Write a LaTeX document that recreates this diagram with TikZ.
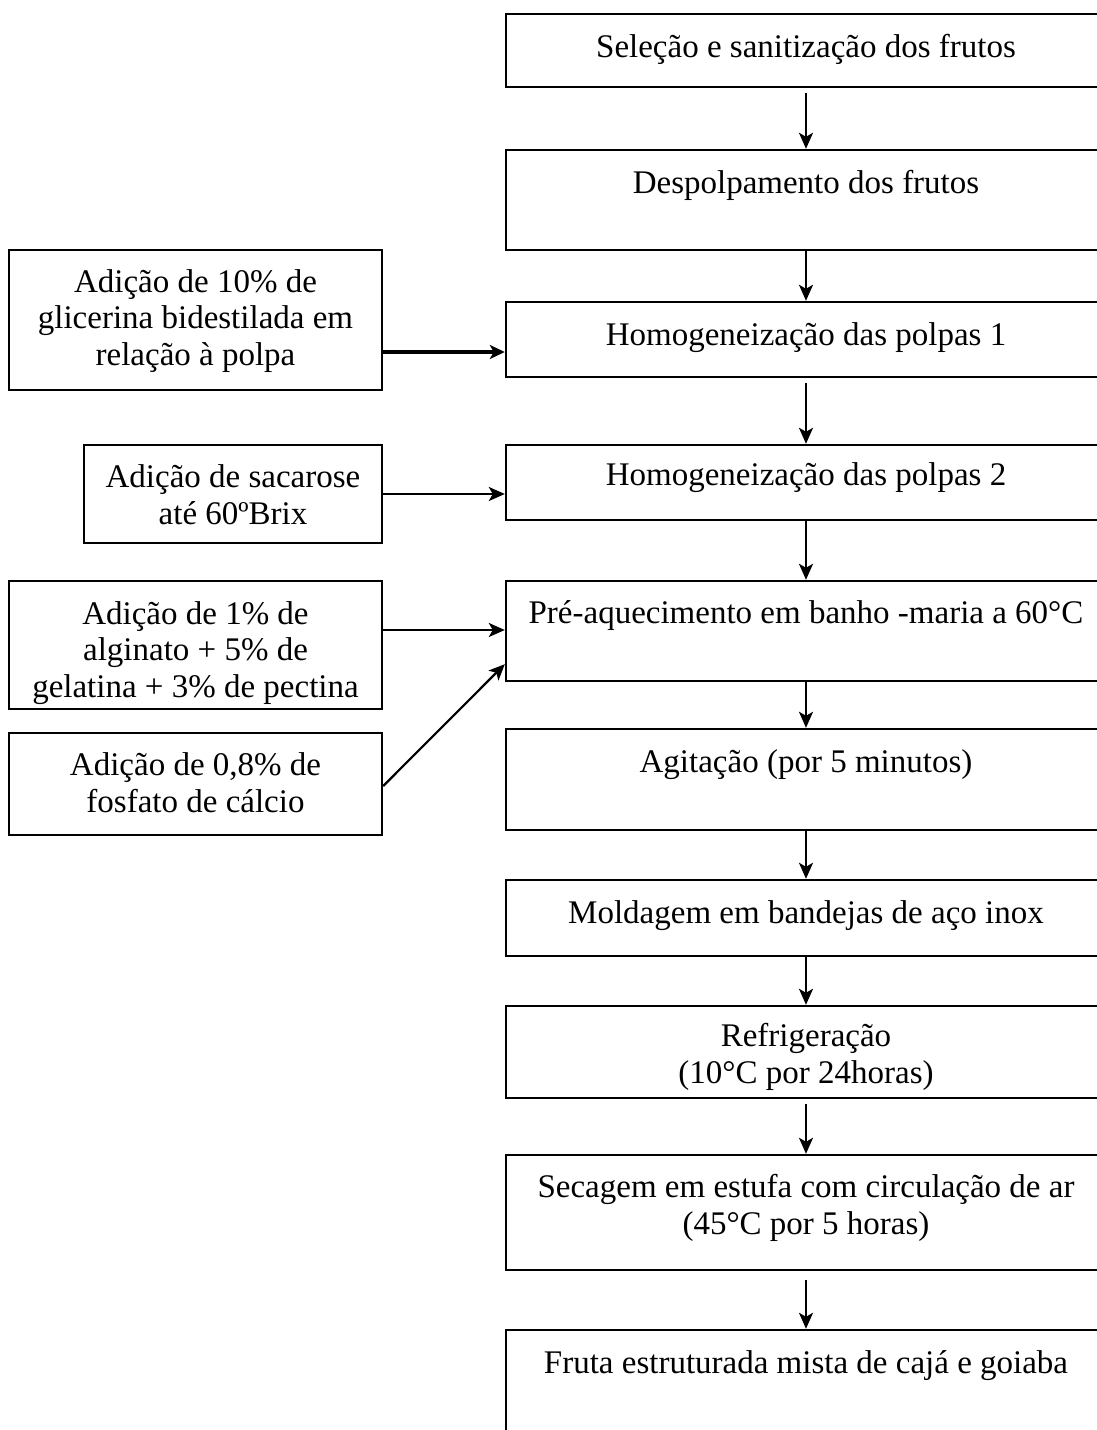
\documentclass[tikz,border=0pt]{standalone}
\usepackage{fontspec}
\setmainfont{Liberation Serif}
\usetikzlibrary{arrows.meta}
\begin{document}
\begin{tikzpicture}[x=1pt,y=-1pt,
  box/.style={draw=black, line width=2.4pt, rectangle, inner sep=0pt, fill=none},
  txt/.style={font=\fontsize{33}{36.5}\selectfont, align=center, anchor=base, inner sep=0pt, text=black},
  flow/.style={draw=black, line width=2.2pt, -{Stealth[length=16pt,width=14pt,inset=4pt]}},
  thickflow/.style={draw=black, line width=4pt, -{Stealth[length=15pt,width=14pt,inset=4pt]}}]
\useasboundingbox (0,0) rectangle (1097,1430);
\clip (0,0) rectangle (1097,1430);
% main column boxes
\node[box, minimum width=600, minimum height=73]  (b1)  at (806,50.5) {};
\node[box, minimum width=600, minimum height=100] (b2)  at (806,200) {};
\node[box, minimum width=600, minimum height=75]  (b3)  at (806,339.5) {};
\node[box, minimum width=600, minimum height=75]  (b4)  at (806,482.5) {};
\node[box, minimum width=600, minimum height=100] (b5)  at (806,631) {};
\node[box, minimum width=600, minimum height=101] (b6)  at (806,779.5) {};
\node[box, minimum width=600, minimum height=76]  (b7)  at (806,918) {};
\node[box, minimum width=600, minimum height=92]  (b8)  at (806,1052) {};
\node[box, minimum width=600, minimum height=115] (b9)  at (806,1212.5) {};
\node[box, minimum width=600, minimum height=120] (b10) at (806,1390) {};
% side boxes
\node[box, minimum width=373, minimum height=140] (l1) at (195.5,320) {};
\node[box, minimum width=298, minimum height=98]  (l2) at (233,494) {};
\node[box, minimum width=373, minimum height=128] (l3) at (195.5,645) {};
\node[box, minimum width=373, minimum height=102] (l4) at (195.5,784) {};
% texts (anchor at baseline of last line)
\node[txt] (t1)  at (806,57)   {Seleção e sanitização dos frutos};
\node[txt] (t2)  at (806,193)  {Despolpamento dos frutos};
\node[txt] (t3)  at (806,345)  {Homogeneização das polpas 1};
\node[txt] (t4)  at (806,485)  {Homogeneização das polpas 2};
\node[txt] (t5)  at (806,623)  {Pré-aquecimento em banho -maria a 60°C};
\node[txt] (t6)  at (806,772)  {Agitação (por 5 minutos)};
\node[txt] (t7)  at (806,923)  {Moldagem em bandejas de aço inox};
\node[txt] (t8)  at (806,1083) {Refrigeração\\(10°C por 24horas)};
\node[txt] (t9)  at (806,1234) {Secagem em estufa com circulação de ar\\(45°C por 5 horas)};
\node[txt] (t10) at (806,1373) {Fruta estruturada mista de cajá e goiaba};
\node[txt] (s1) at (195.5,365) {Adição de 10\% de\\glicerina bidestilada em\\relação à polpa};
\node[txt] (s2) at (233,524)   {Adição de sacarose\\até 60ºBrix};
\node[txt] (s3) at (195.5,697) {Adição de 1\% de\\alginato + 5\% de\\gelatina + 3\% de pectina};
\node[txt] (s4) at (195.5,812) {Adição de 0,8\% de\\fosfato de cálcio};
% main flow
\draw[flow, shorten <=5pt] (b1.south) -- (b2.north);
\draw[flow] (b2.south) -- (b3.north);
\draw[flow, shorten <=5pt] (b3.south) -- (b4.north);
\draw[flow] (b4.south) -- (b5.north);
\draw[flow] (b5.south) -- (b6.north);
\draw[flow] (b6.south) -- (b7.north);
\draw[flow] (b7.south) -- (b8.north);
\draw[flow, shorten <=5pt] (b8.south) -- (b9.north);
\draw[flow, shorten <=9pt] (b9.south) -- (b10.north);
% side inputs
\draw[thickflow] (l1.east |- 0,352) -- (b3.west |- 0,352);
\draw[flow] (l2.east |- 0,494) -- (b4.west |- 0,494);
\draw[flow] (l3.east |- 0,630) -- (b5.west |- 0,630);
\draw[flow] (l4.east |- 0,786) -- ([yshift=18pt]b5.south west);
\end{tikzpicture}
\end{document}
